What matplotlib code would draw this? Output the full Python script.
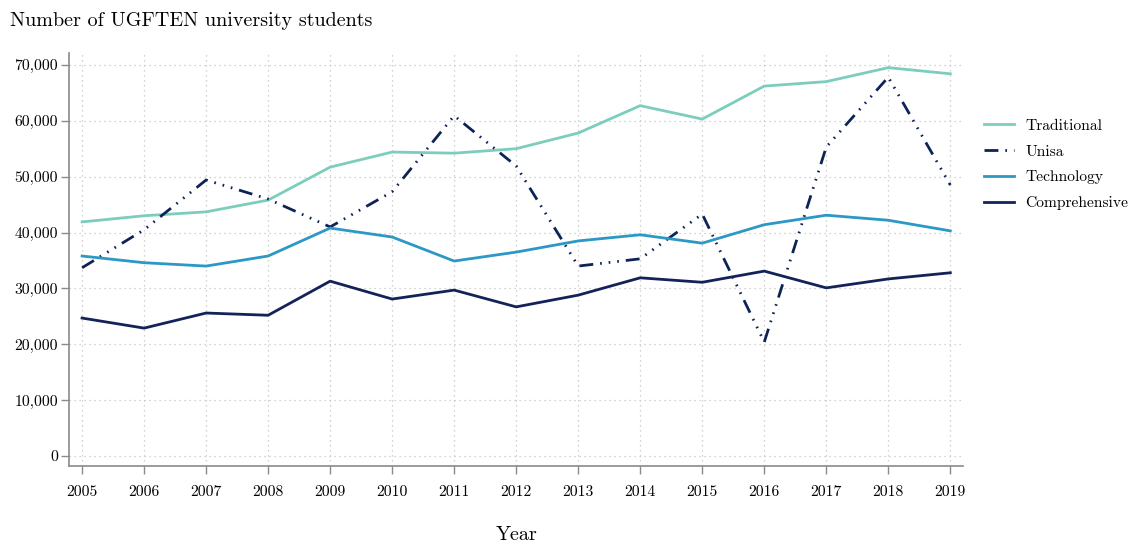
#!/usr/bin/env python3

import matplotlib
matplotlib.use("Agg")
import matplotlib.pyplot as plt
from matplotlib.ticker import FuncFormatter

# student counts per university type, 2005-2019
years = list(range(2005, 2020))
traditional = [41900, 43000, 43700, 45800, 51700, 54400, 54200, 55000,
               57800, 62700, 60300, 66200, 67000, 69500, 68400]
unisa = [33700, 40500, 49400, 46000, 41000, 47300, 60900, 51900,
         34000, 35300, 43300, 20400, 55300, 67800, 48500]
technology = [35800, 34600, 34000, 35800, 40800, 39200, 34900, 36500,
              38500, 39600, 38100, 41400, 43100, 42200, 40300]
comprehensive = [24700, 22900, 25600, 25200, 31300, 28100, 29700, 26700,
                 28800, 31900, 31100, 33100, 30100, 31700, 32800]

plt.rcParams['font.family'] = ['cmr10', 'DejaVu Serif']
plt.rcParams['axes.formatter.use_mathtext'] = True

fig = plt.figure(figsize=(11.32, 5.42), dpi=100)
ax = fig.add_axes([0.061, 0.140, 0.790, 0.762])

ax.plot(years, traditional, color='#7dcdbd', lw=2, label='Traditional')
ax.plot(years, unisa, color='#0d2357', lw=2,
        linestyle=(0, (5, 2.5, 0.6, 2.5, 0.6, 2.5, 0.6, 2.5)), label='Unisa')
ax.plot(years, technology, color='#2c98c6', lw=2, label='Technology')
ax.plot(years, comprehensive, color='#14225a', lw=2, label='Comprehensive')

ax.set_xlim(2004.79, 2019.21)
ax.set_ylim(-1790, 72100)
ax.set_xticks(years)
ax.set_xticklabels([str(y) for y in years])
ax.set_yticks(range(0, 70001, 10000))
ax.yaxis.set_major_formatter(FuncFormatter(lambda v, p: f'{int(v):,}'))

ax.grid(True, linestyle=(0, (1, 3)), color='#c4c4c4', lw=0.9)
for side in ('top', 'right'):
    ax.spines[side].set_visible(False)
for side in ('left', 'bottom'):
    ax.spines[side].set_color('#8a8a8a')
    ax.spines[side].set_linewidth(1.2)
ax.tick_params(direction='out', length=6, width=1, color='#8a8a8a',
               labelsize=11.3)
ax.tick_params(axis='x', pad=8)
ax.tick_params(axis='y', pad=2)

ax.set_xlabel('Year', fontsize=14.5, labelpad=19)
fig.text(0.009, 0.962, 'Number of UGFTEN university students',
         fontsize=14.5, ha='left', va='center')

ax.legend(loc='upper left', bbox_to_anchor=(1.011, 0.867), frameon=False,
          fontsize=11.2, handlelength=1.9, handletextpad=0.75,
          labelspacing=0.76, borderaxespad=0.3)

fig.savefig('out.png', dpi=100)
